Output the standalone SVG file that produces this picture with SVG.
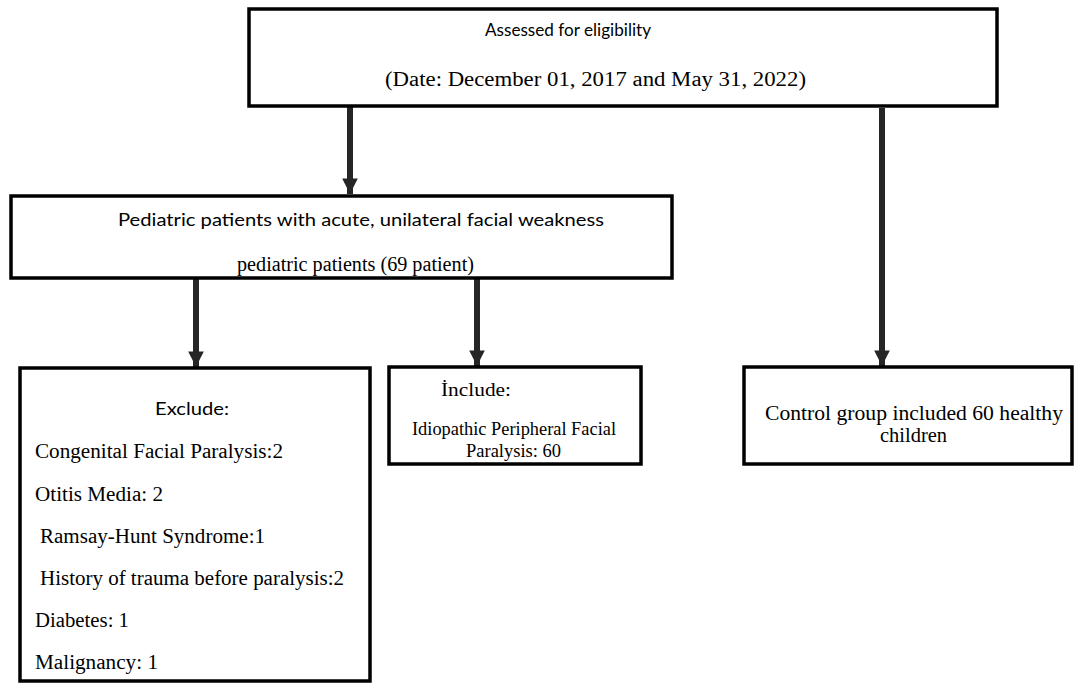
<svg xmlns="http://www.w3.org/2000/svg" width="1076" height="683" viewBox="0 0 1076 683">
<defs>
<style>
.box{fill:#fff;stroke:#000;stroke-width:3.5}
.sans{font-family:Lato,"Liberation Sans",sans-serif;font-size:18px;fill:#000}
.serif{font-family:"Liberation Serif","Times New Roman",serif;font-size:20px;fill:#000}
.sm{font-size:18.5px}
.conn{stroke:#262626;stroke-width:6;fill:none}
</style>
<marker id="ah" viewBox="0 0 10 10" refX="10" refY="5" markerWidth="2.6" markerHeight="2.6" markerUnits="strokeWidth" orient="auto">
<path d="M0,0 L10,5 L0,10 z" fill="#262626"/>
</marker>
</defs>
<rect width="1076" height="683" fill="#fff"/>
<g id="connectors">
<line class="conn" x1="350" y1="107" x2="350" y2="194" marker-end="url(#ah)"/>
<line class="conn" x1="882" y1="108" x2="882" y2="366" marker-end="url(#ah)"/>
<line class="conn" x1="196" y1="279" x2="196" y2="367" marker-end="url(#ah)"/>
<line class="conn" x1="477" y1="279" x2="477" y2="366" marker-end="url(#ah)"/>
</g>
<g id="assessed">
<rect class="box" x="249" y="9" width="748" height="97"/>
<text class="sans" x="485" y="36" textLength="166" lengthAdjust="spacingAndGlyphs">Assessed for eligibility</text>
<text class="serif" x="385" y="86" textLength="421" lengthAdjust="spacingAndGlyphs">(Date: December 01, 2017 and May 31, 2022)</text>
</g>
<g id="pediatric">
<rect class="box" x="11" y="196" width="661" height="82"/>
<text class="sans" x="118" y="226" textLength="486" lengthAdjust="spacingAndGlyphs">Pediatric patients with acute, unilateral facial weakness</text>
<text class="serif" x="237" y="271" textLength="237" lengthAdjust="spacingAndGlyphs">pediatric patients (69 patient)</text>
</g>
<g id="exclude">
<rect class="box" x="20" y="368" width="350" height="313"/>
<text class="sans" x="155" y="415" textLength="74" lengthAdjust="spacingAndGlyphs">Exclude:</text>
<text class="serif" x="35" y="458" textLength="248" lengthAdjust="spacingAndGlyphs">Congenital Facial Paralysis:2</text>
<text class="serif" x="35" y="501" textLength="128" lengthAdjust="spacingAndGlyphs">Otitis Media: 2</text>
<text class="serif" x="40" y="543" textLength="225" lengthAdjust="spacingAndGlyphs">Ramsay-Hunt Syndrome:1</text>
<text class="serif" x="40" y="585" textLength="304" lengthAdjust="spacingAndGlyphs">History of trauma before paralysis:2</text>
<text class="serif" x="35" y="627" textLength="94" lengthAdjust="spacingAndGlyphs">Diabetes: 1</text>
<text class="serif" x="35" y="669" textLength="123" lengthAdjust="spacingAndGlyphs">Malignancy: 1</text>
</g>
<g id="include">
<rect class="box" x="389" y="367" width="252" height="97"/>
<text class="serif sm" x="441" y="396" textLength="70" lengthAdjust="spacingAndGlyphs">İnclude:</text>
<text class="serif sm" x="412" y="435" textLength="204" lengthAdjust="spacingAndGlyphs">Idiopathic Peripheral Facial</text>
<text class="serif sm" x="466" y="457" textLength="95" lengthAdjust="spacingAndGlyphs">Paralysis: 60</text>
</g>
<g id="control">
<rect class="box" x="744" y="367" width="328" height="97"/>
<text class="serif" x="765" y="420" textLength="298" lengthAdjust="spacingAndGlyphs">Control group included 60 healthy</text>
<text class="serif" x="880" y="442" textLength="67" lengthAdjust="spacingAndGlyphs">children</text>
</g>
</svg>
